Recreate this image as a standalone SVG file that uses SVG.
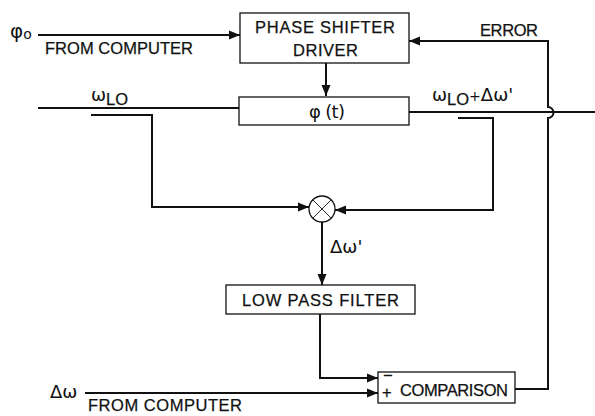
<svg xmlns="http://www.w3.org/2000/svg" width="595" height="416" viewBox="0 0 595 416">
<defs>
<marker id="ah" markerUnits="userSpaceOnUse" markerWidth="12" markerHeight="10" refX="11" refY="5" orient="auto">
<path d="M0,0.5 L11,5 L0,9.5 Z" fill="#111"/>
</marker>
<style>
.box{fill:#fff;stroke:#111;stroke-width:1.3}
.ln{fill:none;stroke:#111;stroke-width:2}
.t{font-family:"Liberation Sans",Arial,sans-serif;font-size:16.5px;fill:#111;stroke:#111;stroke-width:0.25}
.g{font-family:"DejaVu Sans","Liberation Sans",sans-serif;fill:#111}
</style>
</defs>
<rect width="595" height="416" fill="#fff"/>

<g id="connectors">
<path class="ln" d="M38,35 H240" marker-end="url(#ah)"/>
<path class="ln" d="M326,63 V96" marker-end="url(#ah)"/>
<path class="ln" d="M38,108 H239"/>
<path class="ln" d="M409,112 H595"/>
<path class="ln" d="M91,115 H152 V207 H309" marker-end="url(#ah)"/>
<path class="ln" d="M458,118 H493 V210 H335" marker-end="url(#ah)"/>
<path class="ln" d="M322,222 V285" marker-end="url(#ah)"/>
<path class="ln" d="M320,314 V378 H378" marker-end="url(#ah)"/>
<path class="ln" d="M85,393 H378" marker-end="url(#ah)"/>
<path class="ln" d="M515,389 H548 V118 A5.5,5.5 0 0 0 548,107 V41 H409" marker-end="url(#ah)"/>
</g>

<g id="psd">
<rect class="box" x="240" y="13" width="169" height="50"/>
<text class="t" x="255" y="33" textLength="140" lengthAdjust="spacing">PHASE SHIFTER</text>
<text class="t" x="293" y="56" textLength="65" lengthAdjust="spacing">DRIVER</text>
</g>

<g id="phase">
<rect class="box" x="239" y="97" width="170" height="28"/>
<text class="g" x="309" y="118" font-size="18" textLength="36" lengthAdjust="spacing">φ (t)</text>
</g>

<g id="mixer">
<circle cx="322" cy="209" r="13" fill="#fff" stroke="#111" stroke-width="1.3"/>
<path d="M313,200 L331,218 M331,200 L313,218" stroke="#111" stroke-width="0.9"/>
</g>

<g id="lpf">
<rect class="box" x="226" y="285" width="189" height="29"/>
<text class="t" x="242" y="306" textLength="157" lengthAdjust="spacing">LOW PASS FILTER</text>
</g>

<g id="comparison">
<rect class="box" x="378" y="372" width="137" height="31"/>
<text class="t" x="383" y="381" font-size="12">−</text>
<text class="t" x="382" y="398" font-size="14">+</text>
<text class="t" x="400" y="396" textLength="108" lengthAdjust="spacing">COMPARISON</text>
</g>

<g id="labels">
<text class="g" x="10" y="38" font-size="20">φ<tspan font-size="14" dy="1">o</tspan></text>
<text class="t" x="45" y="54" textLength="148" lengthAdjust="spacing">FROM COMPUTER</text>
<text class="g" x="91" y="101" font-size="18">ω<tspan class="t" font-size="13" dy="4">LO</tspan></text>
<text class="g" x="432" y="101" font-size="18">ω<tspan class="t" font-size="13" dy="4">LO</tspan><tspan font-size="14" dy="-4">+</tspan><tspan font-size="18">Δω'</tspan></text>
<text class="t" x="480" y="36" textLength="58" lengthAdjust="spacing">ERROR</text>
<text class="g" x="330" y="253" font-size="18">Δω'</text>
<text class="g" x="50" y="398" font-size="18">Δω</text>
<text class="t" x="88" y="411" textLength="154" lengthAdjust="spacing">FROM COMPUTER</text>
</g>
</svg>
